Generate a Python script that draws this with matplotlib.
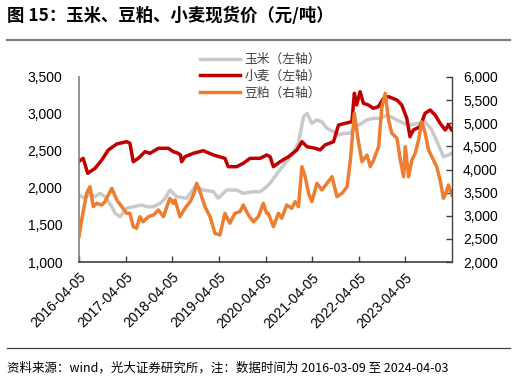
import matplotlib
matplotlib.use('Agg')
import matplotlib.pyplot as plt
import pandas as pd
from matplotlib.lines import Line2D
from matplotlib.font_manager import FontProperties
from matplotlib.ticker import FuncFormatter

plt.rcParams['font.family'] = ['Liberation Sans', 'Noto Sans CJK SC', 'DejaVu Sans']

# ---------------- data ----------------
wheat_dates = ['2016-04-05', '2016-05-08', '2016-06-12', '2016-08-09', '2016-09-30', '2016-11-21',
               '2017-01-26', '2017-04-13', '2017-05-09', '2017-06-04', '2017-07-13', '2017-09-05',
               '2017-10-13', '2017-12-18', '2018-03-05', '2018-04-14', '2018-05-22', '2018-06-09',
               '2018-06-18', '2018-07-14', '2018-09-18', '2018-12-05', '2019-02-22', '2019-05-23',
               '2019-06-18', '2019-08-23', '2019-10-14', '2019-12-06', '2020-02-23', '2020-04-15',
               '2020-05-11', '2020-06-06', '2020-07-28', '2020-10-02', '2020-12-07', '2021-01-16',
               '2021-02-24', '2021-04-28', '2021-06-07', '2021-07-15', '2021-09-20', '2021-10-29',
               '2021-12-20', '2022-02-11', '2022-03-02', '2022-03-20', '2022-04-16', '2022-05-12',
               '2022-06-20', '2022-07-29', '2022-09-07', '2022-10-16', '2022-11-24', '2023-01-30',
               '2023-03-08', '2023-04-17', '2023-05-12', '2023-06-07', '2023-07-30', '2023-09-07',
               '2023-10-17', '2023-11-25', '2024-01-03', '2024-02-12', '2024-03-08', '2024-04-03']
wheat_values = [2360, 2401, 2199, 2266, 2378, 2514,
                2595, 2626, 2604, 2355, 2401, 2491,
                2469, 2537, 2537, 2491, 2469, 2446,
                2355, 2423, 2469, 2504, 2446, 2401,
                2288, 2288, 2334, 2401, 2401, 2446,
                2423, 2288, 2355, 2423, 2514, 2626,
                2558, 2537, 2514, 2581, 2626, 2851,
                2874, 2896, 3280, 3122, 3301, 3145,
                3122, 3077, 3099, 3212, 3234, 3189,
                3122, 2942, 2693, 2784, 2828, 3009,
                3054, 2986, 2874, 2784, 2851, 2784]

corn_dates = ['2016-04-05', '2016-05-21', '2016-06-30', '2016-08-09', '2016-09-17', '2016-10-26',
              '2016-12-18', '2017-01-13', '2017-02-21', '2017-04-13', '2017-06-04', '2017-08-09',
              '2017-09-18', '2017-11-09', '2018-01-01', '2018-02-09', '2018-03-18', '2018-05-10',
              '2018-07-27', '2018-10-01', '2018-12-05', '2019-02-22', '2019-03-31', '2019-06-06',
              '2019-08-23', '2019-10-14', '2020-01-01', '2020-02-23', '2020-04-02', '2020-05-11',
              '2020-07-15', '2020-09-06', '2020-10-29', '2020-12-19', '2021-01-28', '2021-02-24',
              '2021-04-03', '2021-05-11', '2021-06-20', '2021-07-29', '2021-09-20', '2021-10-29',
              '2021-12-07', '2022-01-28', '2022-03-07', '2022-04-29', '2022-06-07', '2022-07-29',
              '2022-09-20', '2022-11-12', '2023-01-03', '2023-03-21', '2023-05-12', '2023-07-17',
              '2023-09-07', '2023-10-30', '2023-12-21', '2024-01-29', '2024-03-08', '2024-04-03']
corn_values = [1905, 1861, 1928, 1882, 1928, 1882,
               1747, 1658, 1612, 1726, 1747, 1770,
               1747, 1747, 1793, 1861, 1973, 1882,
               1861, 2018, 1973, 1950, 1861, 1973,
               1973, 1928, 1950, 1950, 2000, 2064,
               2220, 2334, 2446, 2604, 2964, 3009,
               2874, 2919, 2896, 2807, 2761, 2716,
               2739, 2739, 2828, 2874, 2919, 2942,
               2942, 2986, 2942, 2874, 2851, 2874,
               2896, 2784, 2581, 2423, 2446, 2469]

soy_dates = ['2016-04-05', '2016-04-26', '2016-06-04', '2016-06-30', '2016-07-26', '2016-08-21',
             '2016-09-30', '2016-10-26', '2016-11-21', '2016-12-18', '2017-01-26', '2017-03-06',
             '2017-04-13', '2017-05-09', '2017-06-04', '2017-06-30', '2017-07-26', '2017-08-21',
             '2017-09-30', '2017-11-09', '2017-12-18', '2018-01-27', '2018-02-22', '2018-03-18',
             '2018-04-14', '2018-04-27', '2018-06-05', '2018-07-14', '2018-08-23', '2018-09-18',
             '2018-10-14', '2018-11-09', '2018-12-18', '2019-01-27', '2019-03-06', '2019-04-14',
             '2019-05-23', '2019-07-01', '2019-08-09', '2019-09-18', '2019-10-14', '2019-11-22',
             '2020-01-01', '2020-02-09', '2020-03-19', '2020-04-14', '2020-04-27', '2020-06-06',
             '2020-07-15', '2020-08-10', '2020-09-18', '2020-10-28', '2020-11-23', '2020-12-19',
             '2021-01-15', '2021-02-10', '2021-03-08', '2021-04-03', '2021-05-13', '2021-06-21',
             '2021-07-31', '2021-09-08', '2021-10-17', '2021-11-26', '2022-01-04', '2022-01-30',
             '2022-03-02', '2022-04-05', '2022-05-01', '2022-06-09', '2022-07-05', '2022-07-31',
             '2022-09-08', '2022-10-04', '2022-10-30', '2022-11-25', '2022-12-21', '2023-01-30',
             '2023-02-25', '2023-03-23', '2023-04-05', '2023-05-01', '2023-05-27', '2023-06-22',
             '2023-07-18', '2023-08-13', '2023-09-08', '2023-10-04', '2023-10-30', '2023-12-07',
             '2024-01-03', '2024-01-29', '2024-02-16', '2024-03-08', '2024-04-03']
soy_values = [2550, 2908, 3485, 3628, 3196, 3269,
              3232, 3304, 3449, 3594, 3341, 3196,
              3053, 3053, 2763, 2729, 2979, 2871,
              2979, 3016, 3124, 2979, 3196, 3377,
              3269, 3341, 2979, 3161, 3304, 3449,
              3702, 3520, 3196, 2979, 2621, 2584,
              3053, 2837, 3053, 3088, 3232, 3016,
              2871, 2979, 3269, 3053, 3053, 2763,
              3053, 2945, 3232, 3161, 3304, 3196,
              4061, 3844, 3485, 3304, 3702, 3557,
              3702, 3844, 3412, 3485, 3628, 4205,
              5215, 4566, 4169, 4314, 4061, 4205,
              4493, 5358, 5648, 5070, 4783, 4675,
              4205, 3844, 4493, 3844, 4205, 4350,
              4638, 5033, 4783, 4422, 4277, 4061,
              3773, 3377, 3485, 3665, 3449]

labels = ['玉米（左轴）', '小麦（左轴）', '豆粕（右轴）']
colors = ['#C9C9C9', '#C00000', '#ED7D31']
left_ticks = [1000, 1500, 2000, 2500, 3000, 3500]
right_ticks = [2000, 2500, 3000, 3500, 4000, 4500, 5000, 5500, 6000]
x_tick_labels = ['2016-04-05', '2017-04-05', '2018-04-05', '2019-04-05',
                 '2020-04-05', '2021-04-05', '2022-04-05', '2023-04-05']
title = '图 15：玉米、豆粕、小麦现货价（元/吨）'
note = '资料来源：wind，光大证券研究所，注：数据时间为 2016-03-09 至 2024-04-03'

# ---------------- figure ----------------
W, H = 520, 381
fig = plt.figure(figsize=(W / 100, H / 100), dpi=100)
ax = fig.add_axes([79 / W, 1 - 262 / H, (452 - 79) / W, (262 - 77) / H])
ax2 = ax.twinx()

lw = 2.5
l1, = ax.plot(pd.to_datetime(corn_dates), corn_values, color=colors[0], lw=lw, solid_joinstyle='round')
l2, = ax.plot(pd.to_datetime(wheat_dates), wheat_values, color=colors[1], lw=lw, solid_joinstyle='round')
l3, = ax2.plot(pd.to_datetime(soy_dates), soy_values, color=colors[2], lw=lw, solid_joinstyle='round')

ax.set_xlim(pd.Timestamp('2016-04-05'), pd.Timestamp('2024-04-05'))
ax.set_ylim(left_ticks[0], left_ticks[-1])
ax2.set_ylim(right_ticks[0], right_ticks[-1])
ax.set_yticks(left_ticks)
ax2.set_yticks(right_ticks)
fmt = FuncFormatter(lambda v, p: f'{int(v):,}')
ax.yaxis.set_major_formatter(fmt)
ax2.yaxis.set_major_formatter(fmt)

ax.set_xticks(pd.to_datetime(x_tick_labels))
ax.set_xticklabels(x_tick_labels, rotation=45, ha='right', rotation_mode='anchor')

for s in ['top', 'right']:
    ax.spines[s].set_visible(False)
for s in ['top', 'left', 'bottom']:
    ax2.spines[s].set_visible(False)
ax.spines['left'].set_color('#808080')
ax.spines['left'].set_linewidth(1.2)
ax.spines['bottom'].set_color('#404040')
ax.spines['bottom'].set_linewidth(1.2)
ax2.spines['right'].set_color('#404040')
ax2.spines['right'].set_linewidth(1.0)

ax.tick_params(axis='y', length=0, pad=12, labelsize=10, labelcolor='#000000')
ax.tick_params(axis='x', direction='in', length=4, width=1, color='#404040', pad=6,
               labelsize=10, labelcolor='#000000')
ax2.tick_params(axis='y', direction='in', length=4, width=1, color='#404040', pad=8,
                labelsize=10, labelcolor='#000000')

# legend
fig.legend([l1, l2, l3], labels, loc='upper left', bbox_to_anchor=(200 / W, 1 - 53 / H),
           frameon=False, prop=FontProperties(family='Noto Sans CJK SC', size=9.2),
           handlelength=3.1, handletextpad=0.4, labelspacing=0.3, borderpad=0,
           borderaxespad=0, labelcolor='#404040')

# title, rules, note
fig.text(7 / W, 1 - 16 / H, title, fontsize=12.5, fontweight='bold',
         family=['Noto Sans CJK SC', 'DejaVu Sans'], va='center', ha='left')
fig.add_artist(Line2D([7 / W, 510 / W], [1 - 40 / H] * 2, color='#7f7f7f', lw=1.6))
fig.add_artist(Line2D([7 / W, 510 / W], [1 - 348 / H] * 2, color='#404040', lw=0.9))
fig.text(7 / W, 1 - 368 / H, note, fontsize=9, family=['Noto Sans CJK SC', 'DejaVu Sans'],
         va='center', ha='left', color='#000000')

fig.savefig('out.png', dpi=100)
